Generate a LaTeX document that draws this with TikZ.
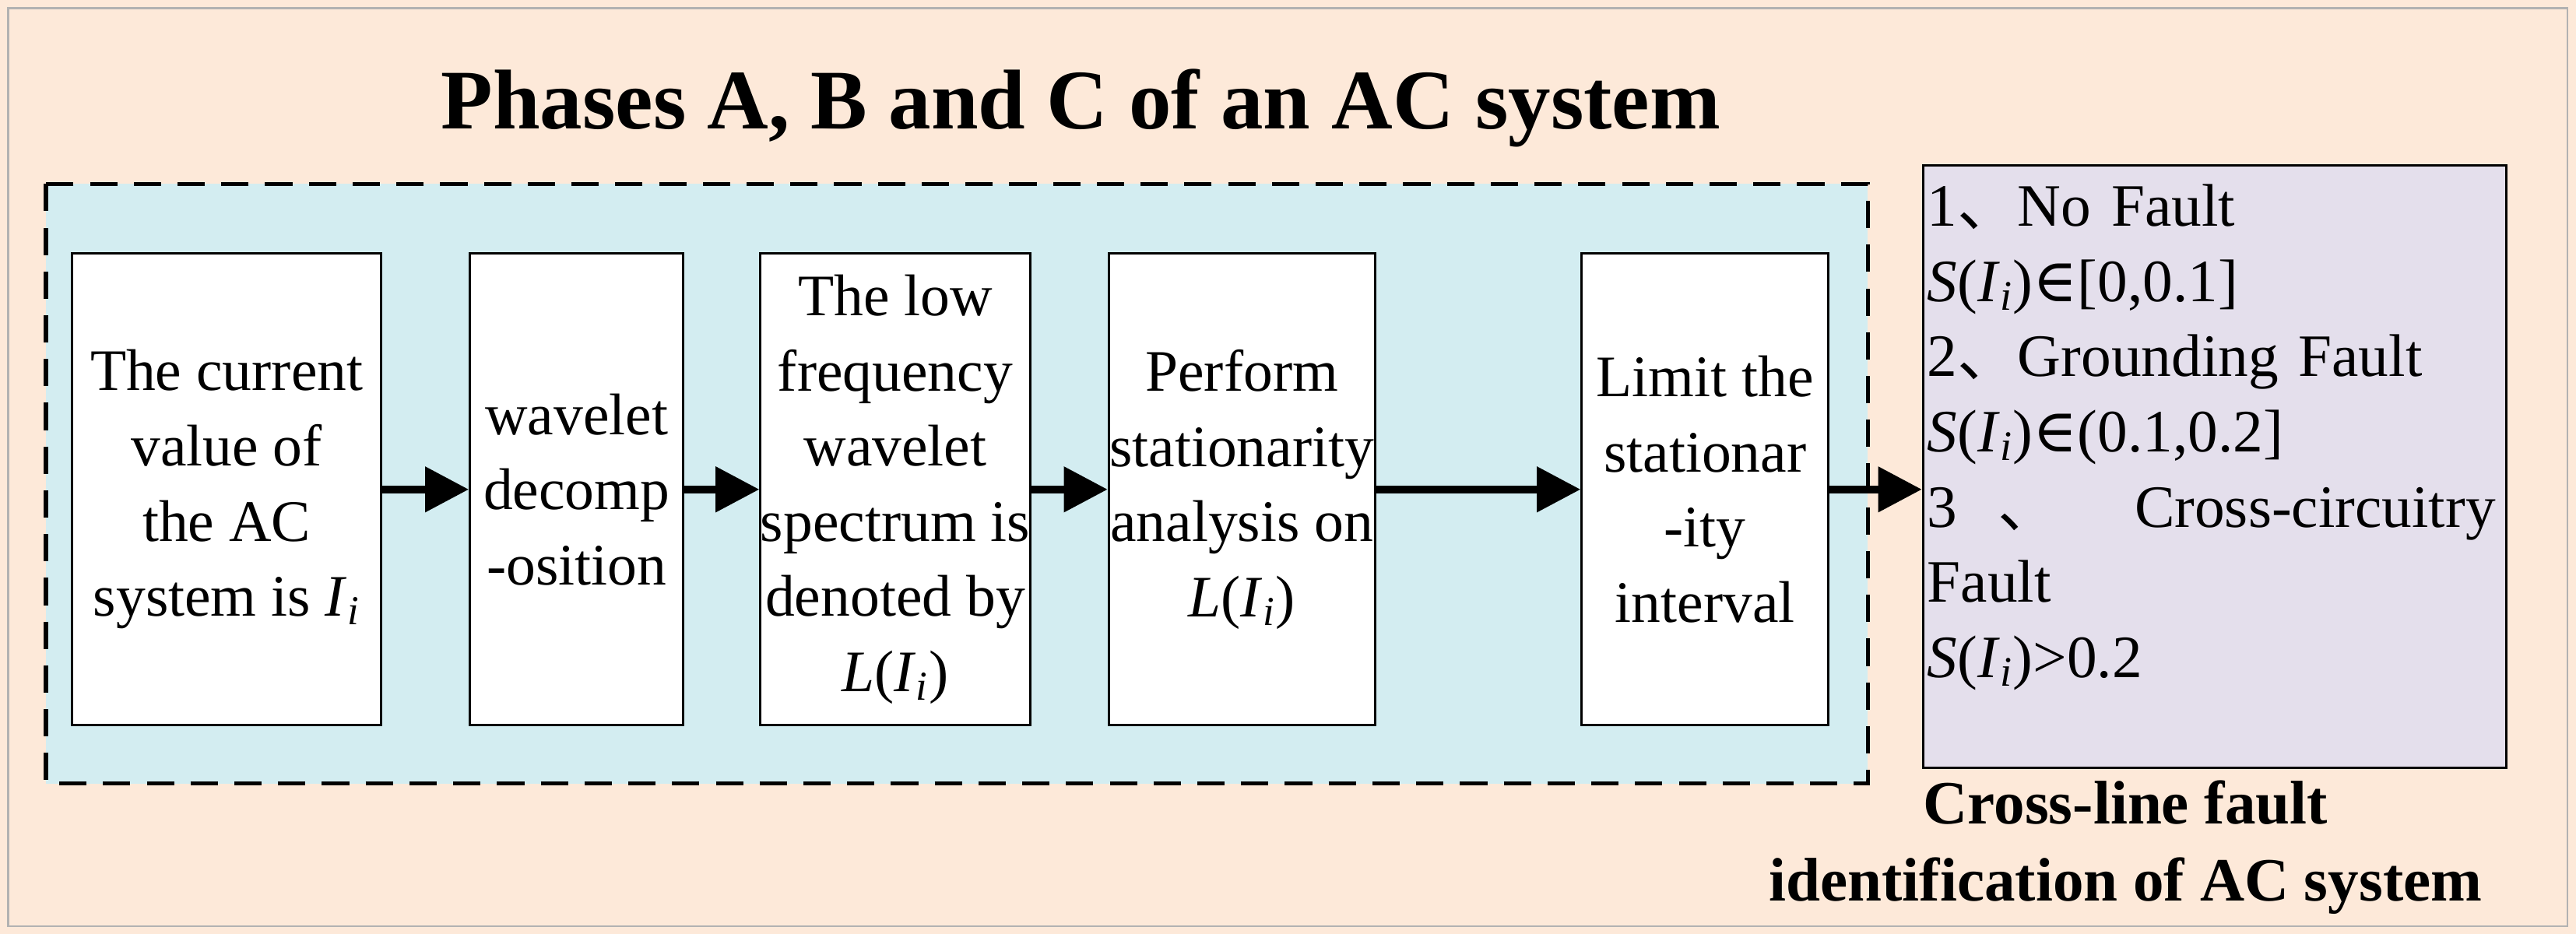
\documentclass[tikz,border=0pt]{standalone}
\usepackage{fontspec}
\setmainfont{Liberation Serif}
\newfontfamily\cjk{Noto Sans CJK SC}
\newfontfamily\dvs{DejaVu Serif}
\usetikzlibrary{arrows.meta}
\definecolor{peach}{HTML}{FDE9D9}
\definecolor{lblue}{HTML}{D3EDF1}
\definecolor{lav}{HTML}{E4DFEC}
\newcommand{\SI}{\textit{S}(\textit{I}\textsubscript{\textit{i}})}
\newcommand{\LI}{\textit{L}(\textit{I}\textsubscript{\textit{i}})}
\newcommand{\II}{\textit{I}\textsubscript{\textit{i}}}
\newcommand{\inn}{{\dvs ∈}}
\begin{document}
\begin{tikzpicture}[x=0.0211cm,y=-0.0211cm,
  box/.style={draw,line width=0.8pt,fill=white,inner sep=0pt,align=center,font=\fontsize{21.5}{27.5}\selectfont},
  arr/.style={-{Triangle[length=16pt,width=16pt]},line width=3pt}]
\useasboundingbox (0,0) rectangle (1568.2,568.7);
\fill[peach] (0,0) rectangle (1568.2,568.7);
\draw[gray!60,line width=0.6pt] (5,5) rectangle (1563,564);
\draw[dashed,line width=1.5pt,dash pattern=on 10pt off 6pt,fill=lblue] (28,112) rectangle (1137,477);
\node[font=\bfseries\fontsize{31}{36}\selectfont] (title) at (658,66) {Phases A, B and C of an AC system};
\node[box,minimum width=3.97cm,minimum height=6.06cm] (b1) at (138,298) {The current\\value of\\the AC\\system is \II};
\node[box,minimum width=2.74cm,minimum height=6.06cm] (b2) at (351,298) {wavelet\\decomp\\-osition};
\node[box,minimum width=3.16cm,minimum height=6.06cm] (b3) at (545,298) {The low\\frequency\\wavelet\\spectrum is\\denoted by\\\LI};
\node[box,minimum width=3.42cm,minimum height=6.06cm] (b4) at (756,298) {Perform\\stationarity\\analysis on\\\LI};
\node[box,minimum width=3.17cm,minimum height=6.06cm] (b5) at (1038,298) {Limit the\\stationar\\-ity\\interval};
\node[draw,line width=0.8pt,fill=lav,minimum width=7.49cm,minimum height=7.74cm,anchor=north west,inner sep=0pt] (r) at (1170,100) {};
\node[anchor=north west,align=left,font=\fontsize{22}{27.5}\selectfont,text width=7.3cm,inner sep=0pt] (rt) at (1173,112)
 {1{\cjk 、}No Fault\\\SI\inn[0,0.1]\\2{\cjk 、}Grounding Fault\\\SI\inn(0.1,0.2]\\3\ \ {\cjk 、}\hfill Cross-circuitry\\Fault\\\SI{}>0.2};
\node[align=center,font=\bfseries\fontsize{22.5}{28}\selectfont] (lab) at (1294,516) {Cross-line fault\\identification of AC system};
\draw[arr] (b1) -- (b2);
\draw[arr] (b2) -- (b3);
\draw[arr] (b3) -- (b4);
\draw[arr] (b4) -- (b5);
\draw[arr] (b5) -- (r.west |- b5);
\end{tikzpicture}
\end{document}
